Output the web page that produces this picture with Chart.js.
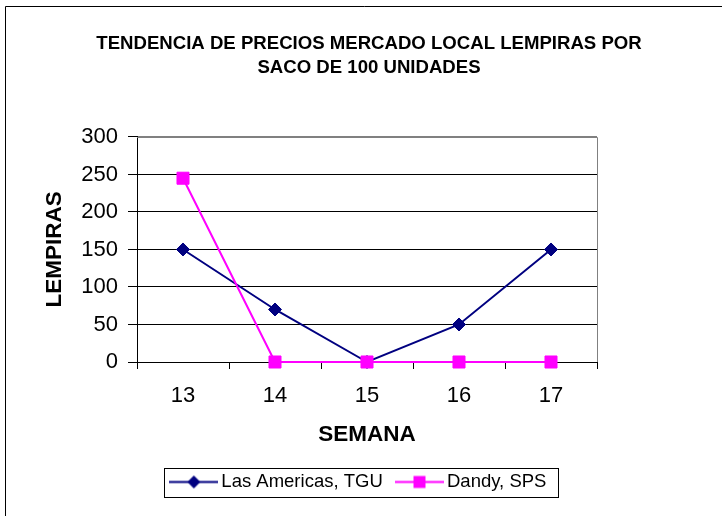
<!DOCTYPE html>
<html><head><meta charset="utf-8">
<script src="https://cdn.jsdelivr.net/npm/chart.js@4.4.0/dist/chart.umd.min.js"></script>
<style>html,body{margin:0;padding:0;background:#fff}#wrap{width:722px;height:516px}</style>
</head><body><div id="wrap"><canvas id="c" width="722" height="516"></canvas></div>
<script>
const weeks = ['13', '14', '15', '16', '17'];
const lasAmericas = [150, 70, 0, 50, 150];
const dandy = [245, 0, 0, 0, 0];
const seriesNames = ['Las Americas, TGU', 'Dandy, SPS'];
const yTicks = [0, 50, 100, 150, 200, 250, 300];
const titleLines = ['TENDENCIA DE PRECIOS MERCADO LOCAL LEMPIRAS POR', 'SACO DE 100 UNIDADES'];
const xTitle = 'SEMANA';
const yTitle = 'LEMPIRAS';

const NAVY = '#000080';
const MAGENTA = '#FF00FF';
const FONT = 'Liberation Sans, Arial, sans-serif';

function legendIcon(color, marker) {
  const c = document.createElement('canvas');
  c.width = 49; c.height = 15;
  const g = c.getContext('2d');
  g.strokeStyle = color; g.lineWidth = 2;
  g.beginPath(); g.moveTo(0, 7.5); g.lineTo(49, 7.5); g.stroke();
  g.fillStyle = color;
  g.beginPath();
  if (marker === 'diamond') {
    g.moveTo(24.5, 1); g.lineTo(31, 7.5); g.lineTo(24.5, 14); g.lineTo(18, 7.5); g.closePath();
  } else {
    g.rect(18.5, 1.5, 12, 12);
  }
  g.fill();
  return c;
}
const icons = [legendIcon(NAVY, 'diamond'), legendIcon(MAGENTA, 'square')];

const decor = {
  id: 'decor',
  beforeDraw(chart) {
    const ctx = chart.ctx;
    ctx.save();
    ctx.fillStyle = '#fff';
    ctx.fillRect(0, 0, chart.width, chart.height);
    ctx.strokeStyle = '#000'; ctx.lineWidth = 1;
    ctx.beginPath();
    ctx.moveTo(5.5, chart.height + 2); ctx.lineTo(5.5, 6.5); ctx.lineTo(chart.width + 2, 6.5);
    ctx.stroke();
    ctx.restore();
  },
  afterLayout(chart) {
    chart.titleBlock.left = 16;
    chart.titleBlock.right = chart.width;
  },
  beforeDatasetsDraw(chart) {
    const a = chart.chartArea, ctx = chart.ctx;
    ctx.save();
    ctx.strokeStyle = '#808080'; ctx.lineWidth = 1;
    ctx.beginPath();
    ctx.moveTo(Math.round(a.right) + 0.5, Math.round(a.bottom));
    ctx.lineTo(Math.round(a.right) + 0.5, Math.round(a.top) + 0.5);
    ctx.lineTo(Math.round(a.left), Math.round(a.top) + 0.5);
    ctx.stroke();
    ctx.restore();
  },
  afterDraw(chart) {
    const hb = chart.legend.legendHitBoxes;
    if (!hb || !hb.length) return;
    const first = hb[0], last = hb[hb.length - 1];
    const cy = first.top + first.height / 2;
    const l = Math.round(first.left - 11.5) + 0.5;
    const r = Math.round(last.left + last.width + 11.5) + 0.5;
    const t = Math.round(cy - 14.5) + 0.5;
    const b = Math.round(cy + 14.5) + 0.5;
    const ctx = chart.ctx;
    ctx.save();
    ctx.strokeStyle = '#000'; ctx.lineWidth = 1;
    ctx.strokeRect(l, t, r - l, b - t);
    ctx.restore();
  }
};

new Chart(document.getElementById('c'), {
  type: 'line',
  data: {
    labels: weeks,
    datasets: [
      { label: seriesNames[0], data: lasAmericas, borderColor: NAVY, backgroundColor: NAVY,
        borderWidth: 2, pointStyle: 'rectRot', pointRadius: 6.5, pointBorderWidth: 1,
        pointHoverRadius: 6.5, tension: 0, order: 1, clip: false },
      { label: seriesNames[1], data: dandy, borderColor: MAGENTA, backgroundColor: MAGENTA,
        borderWidth: 2, pointStyle: 'rect', pointRadius: 8.5, pointBorderWidth: 1,
        pointHoverRadius: 8.5, tension: 0, order: 0, clip: false }
    ]
  },
  options: {
    responsive: false,
    animation: false,
    devicePixelRatio: 1,
    layout: { padding: { left: 0, right: 0, top: 0, bottom: 14.75 } },
    plugins: {
      tooltip: { enabled: false },
      title: {
        display: true, text: titleLines, color: '#000',
        font: { family: FONT, size: 18.6, weight: 'bold', lineHeight: 1.3 },
        padding: { top: 32, bottom: 56.6 }
      },
      legend: {
        display: true, position: 'bottom',
        labels: {
          color: '#000', font: { family: FONT, size: 18.5 },
          usePointStyle: true, pointStyleWidth: 36.5, padding: 18.5,
          sort: (a, b) => a.datasetIndex - b.datasetIndex,
          generateLabels(chart) {
            const items = Chart.defaults.plugins.legend.labels.generateLabels(chart);
            items.forEach(it => { it.pointStyle = icons[it.datasetIndex]; });
            return items;
          }
        }
      }
    },
    scales: {
      x: {
        type: 'category', offset: true,
        grid: { display: true, offset: true, drawOnChartArea: false, tickLength: 7, color: '#000' },
        border: { display: true, color: '#000', width: 1 },
        ticks: { color: '#000', font: { family: FONT, size: 22 }, padding: 13.3, maxRotation: 0 },
        title: { display: true, text: xTitle, color: '#000',
          font: { family: FONT, size: 22.5, weight: 'bold' }, padding: { top: 0, bottom: 5.75 } },
        afterFit(s) { s.height = 92.25; }
      },
      y: {
        type: 'linear', position: 'left', min: 0, max: 300,
        afterBuildTicks(s) { s.ticks = yTicks.map(v => ({ value: v })); },
        grid: { display: true, drawOnChartArea: true, tickLength: 9,
          color: (c) => (c.tick && c.tick.value === 300 ? '#808080' : '#000'), tickColor: '#000' },
        border: { display: true, color: '#000', width: 1 },
        ticks: { color: '#000', font: { family: FONT, size: 22 }, padding: 10 },
        title: { display: true, text: yTitle, color: '#000',
          font: { family: FONT, size: 22.5, weight: 'bold' }, padding: { top: 41.5, bottom: 0 } },
        afterFit(s) { s.width = 137; }
      },
      y2: {
        type: 'linear', position: 'right', display: true,
        grid: { display: false }, border: { display: false },
        ticks: { display: false }, title: { display: false },
        afterFit(s) { s.width = 125; }
      }
    }
  },
  plugins: [decor]
});
</script>
</body></html>
